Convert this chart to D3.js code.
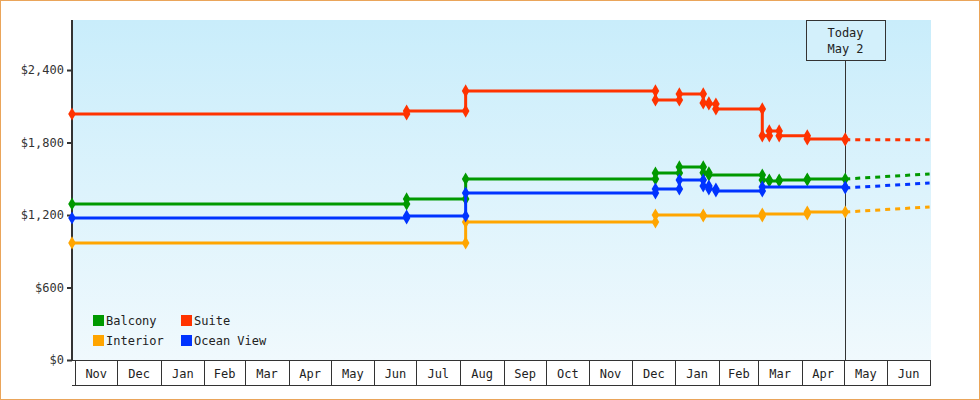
<!DOCTYPE html>
<html><head><meta charset="utf-8">
<script src="https://cdn.jsdelivr.net/npm/d3@7"></script>
<style>body{margin:0;background:#fff}text{font-family:"DejaVu Sans Mono",monospace}</style>
</head><body><svg></svg>
<script>
// Data
let seriesNames = ["Balcony", "Suite", "Interior", "Ocean View"];
let seriesColors = ["#009900", "#ff3300", "#ffa500", "#0033ff"];
let changeDates = ["2023-10-30","2024-06-24","2024-08-05","2024-12-18","2025-01-04","2025-01-21","2025-01-25","2025-01-30","2025-03-04","2025-03-09","2025-03-16","2025-04-05","2025-05-02"];
let balcony   = [1291, 1333, 1498, 1548, 1598, 1550, 1531, 1531, 1490, 1482, 1490, 1498, 1498];
let suite     = [2036, 2060, 2227, 2152, 2202, 2128, 2119, 2078, 1855, 1896, 1855, 1830, 1822];
let interior  = [969,  969,  1142, 1200, 1200, 1192, 1192, 1192, 1208, 1208, 1208, 1225, 1225];
let oceanView = [1175, 1192, 1382, 1415, 1490, 1440, 1415, 1399, 1432, 1432, 1432, 1432, 1424];
let forecast  = [1540, 1822, 1267, 1465]; // dashed end values, per series order
let yTicks = [0, 600, 1200, 1800, 2400];
let monthLabels = ["Nov","Dec","Jan","Feb","Mar","Apr","May","Jun","Jul","Aug","Sep","Oct","Nov","Dec","Jan","Feb","Mar","Apr","May","Jun"];
let todayLabel = ["Today", "May 2"];

let width = 980, height = 400;
let padLeft = 72, padRight = 931, padTop = 20, padBottom = 360;
let parse = d3.timeParse("%Y-%m-%d");
let svg = d3.select("svg").attr("width", width).attr("height", height);

let x = d3.scaleTime().domain([parse("2023-10-30"), parse("2025-07-02")]).range([padLeft, padRight]);
let y = d3.scaleLinear().domain([0, 2814]).range([padBottom, padTop]);

// background
let grad = svg.append("defs").append("linearGradient").attr("id", "bg").attr("x1", 0).attr("x2", 0).attr("y1", 0).attr("y2", 1);
grad.append("stop").attr("offset", "0%").attr("stop-color", "#c9edfb");
grad.append("stop").attr("offset", "100%").attr("stop-color", "#f0f9fd");
svg.append("rect").attr("x", 0.5).attr("y", 0.5).attr("width", width - 1).attr("height", height - 1).attr("fill", "#fff").attr("stroke", "#eaa55a");
svg.append("rect").attr("x", padLeft).attr("y", padTop).attr("width", padRight - padLeft).attr("height", padBottom - padTop).attr("fill", "url(#bg)");

// y axis
let yAxis = svg.append("g").attr("transform", `translate(${padLeft},0)`)
  .call(d3.axisLeft(y).tickValues(yTicks).tickSize(5).tickFormat(d => "$" + d3.format(",")(d)));
yAxis.select(".domain").remove();
yAxis.selectAll("line").attr("stroke", "#333").attr("stroke-width", 2);
yAxis.selectAll("text").attr("font-size", 12).attr("fill", "#333").attr("font-family", "DejaVu Sans Mono");
svg.append("line").attr("x1", padLeft).attr("x2", padLeft).attr("y1", padTop).attr("y2", padBottom).attr("stroke", "#333").attr("stroke-width", 2);

// month boxes
let monthStarts = d3.timeMonth.range(parse("2023-11-01"), parse("2025-07-02"));
let mg = svg.append("g");
svg.append("line").attr("x1", padLeft).attr("x2", padRight).attr("y1", padBottom + 0.5).attr("y2", padBottom + 0.5).attr("stroke", "#333");
svg.append("line").attr("x1", padLeft).attr("x2", padRight).attr("y1", 385.5).attr("y2", 385.5).attr("stroke", "#333");
monthStarts.forEach((m, i) => {
  let x0 = Math.round(x(m)) + 0.5;
  let x1 = x(d3.timeMonth.offset(m, 1));
  mg.append("line").attr("x1", x0).attr("x2", x0).attr("y1", padBottom).attr("y2", 385).attr("stroke", "#333");
  mg.append("text").attr("x", (x0 + Math.min(x1, padRight)) / 2).attr("y", 378).attr("text-anchor", "middle")
    .attr("font-size", 12).attr("fill", "#222").text(monthLabels[i]);
});

// today marker
let today = parse("2025-05-02");
let tx = Math.round(x(today)) + 0.5;
svg.append("line").attr("x1", tx).attr("x2", tx).attr("y1", 61).attr("y2", padBottom).attr("stroke", "#333");
svg.append("rect").attr("x", tx - 39).attr("y", 20.5).attr("width", 79).attr("height", 40).attr("fill", "#d3f0fb").attr("stroke", "#333");
todayLabel.forEach((t, i) => svg.append("text").attr("x", tx).attr("y", 37 + i * 16).attr("text-anchor", "middle").attr("font-size", 12).attr("fill", "#222").text(t));

// series
let allValues = [balcony, suite, interior, oceanView];
let dates = changeDates.map(parse);
let endDate = parse("2025-07-01");
let line = d3.line().x(d => x(d[0])).y(d => y(d[1])).curve(d3.curveStepAfter);
allValues.forEach((vals, s) => {
  let pts = dates.map((d, i) => [d, vals[i]]);
  svg.append("path").datum(pts).attr("d", line).attr("fill", "none").attr("stroke", seriesColors[s]).attr("stroke-width", 3);
  svg.append("path").datum([[today, vals[vals.length - 1]], [endDate, forecast[s]]])
    .attr("d", d3.line().x(d => x(d[0])).y(d => y(d[1]))).attr("fill", "none")
    .attr("stroke", seriesColors[s]).attr("stroke-width", 3).attr("stroke-dasharray", "5,5");
  let marks = [];
  pts.forEach((p, i) => {
    if (i > 0 && vals[i - 1] !== vals[i]) marks.push([p[0], vals[i - 1]]);
    if (i === 0 || vals[i - 1] !== vals[i] || i === pts.length - 1) marks.push(p);
  });
  svg.selectAll(null).data(marks).enter().append("path")
    .attr("transform", d => `translate(${x(d[0])},${y(d[1])})`)
    .attr("d", d3.symbol(d3.symbolDiamond, 50)).attr("fill", seriesColors[s]);
});

// legend
let legendPos = [[93, 320], [181, 320], [93, 340], [181, 340]];
legendPos.forEach((pos, s) => {
  svg.append("rect").attr("x", pos[0]).attr("y", pos[1] - 5).attr("width", 11).attr("height", 11).attr("fill", seriesColors[s]);
  svg.append("text").attr("x", pos[0] + 13).attr("y", pos[1] + 5).attr("font-size", 12).attr("fill", "#222").text(seriesNames[s]);
});
</script></body></html>
